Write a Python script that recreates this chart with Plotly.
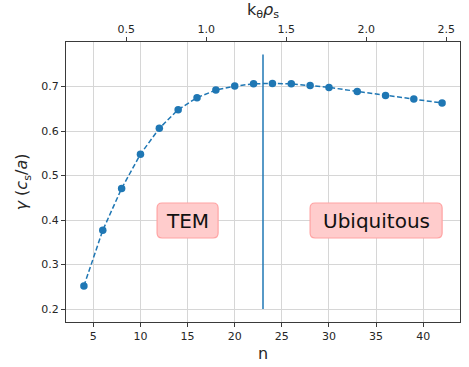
import plotly.graph_objects as go

# data
n_vals = [4, 6, 8, 10, 12, 14, 16, 18, 20, 22, 24, 26, 28, 30, 33, 36, 39, 42]
gamma_vals = [0.252, 0.377, 0.471, 0.548, 0.606, 0.648, 0.675, 0.692, 0.701, 0.706,
              0.707, 0.706, 0.702, 0.698, 0.689, 0.680, 0.672, 0.663]
boundary_n = [23, 23]
boundary_gamma = [0.2, 0.772]
k_per_n = 0.0589  # k_theta rho_s per unit n
top_ticks = [0.5, 1.0, 1.5, 2.0, 2.5]
bottom_ticks = [5, 10, 15, 20, 25, 30, 35, 40]
y_ticks = [0.2, 0.3, 0.4, 0.5, 0.6, 0.7]
labels = ["TEM", "Ubiquitous"]
label_n = [15, 35]
label_gamma = [0.399, 0.399]
label_box_px = [(61, 35), (132, 35)]  # box width/height in pixels

BLUE = "#1f77b4"
FONT = "DejaVu Sans"
TXT = "#262626"

x_range = [2.1, 43.9]
y_range = [0.171, 0.8]


def rounded_rect(w, h, r):
    x0, x1, y0, y1 = -w / 2, w / 2, -h / 2, h / 2
    return (f"M{x0 + r},{y0} L{x1 - r},{y0} Q{x1},{y0} {x1},{y0 + r} "
            f"L{x1},{y1 - r} Q{x1},{y1} {x1 - r},{y1} L{x0 + r},{y1} "
            f"Q{x0},{y1} {x0},{y1 - r} L{x0},{y0 + r} Q{x0},{y0} {x0 + r},{y0} Z")


fig = go.Figure()
fig.add_trace(go.Scatter(x=n_vals, y=gamma_vals, mode="lines+markers",
                         line=dict(color=BLUE, width=1.5, dash="5px,2.5px"),
                         marker=dict(color=BLUE, size=7.5), showlegend=False))
fig.add_trace(go.Scatter(x=boundary_n, y=boundary_gamma, mode="lines",
                         line=dict(color=BLUE, width=1.5), showlegend=False))
# invisible trace on the top axis
fig.add_trace(go.Scatter(x=[v * k_per_n for v in n_vals], y=gamma_vals, xaxis="x2",
                         mode="markers", marker=dict(opacity=0), hoverinfo="skip",
                         showlegend=False))

for text, x, y, (w, h) in zip(labels, label_n, label_gamma, label_box_px):
    fig.add_shape(type="path", xref="x", yref="y", xsizemode="pixel", ysizemode="pixel",
                  xanchor=x, yanchor=y, path=rounded_rect(w, h, 5),
                  fillcolor="#ffcccc", line=dict(color="#ffa3a3", width=1.2),
                  layer="above")
    fig.add_annotation(x=x, y=y, text=text, showarrow=False,
                       font=dict(family=FONT, size=20, color="#111"))

axis_common = dict(showline=True, linecolor="#3a3a3a", linewidth=1,
                   ticks="outside", ticklen=4, tickcolor="#3a3a3a",
                   tickfont=dict(family=FONT, size=11, color=TXT), zeroline=False)

fig.update_layout(
    width=469, height=367,
    margin=dict(l=66, r=8, t=38, b=40),
    paper_bgcolor="white", plot_bgcolor="white",
    font=dict(family=FONT, color=TXT),
    xaxis=dict(range=x_range, tickvals=bottom_ticks, showgrid=True, gridcolor="#d6d6d6",
               gridwidth=1.1, mirror=True,
               title=dict(text="n", font=dict(family=FONT, size=16, color=TXT), standoff=5),
               **axis_common),
    xaxis2=dict(range=[x_range[0] * k_per_n, x_range[1] * k_per_n], tickvals=top_ticks,
                ticktext=[f"{t:.1f}" for t in top_ticks],
                overlaying="x", side="top", showgrid=False, anchor="y",
                title=dict(text="k<sub>θ</sub><i>ρ</i><sub>s</sub>",
                           font=dict(family=FONT, size=16, color=TXT), standoff=3),
                **axis_common),
    yaxis=dict(range=y_range, tickvals=y_ticks, ticktext=[f"{t:.1f}" for t in y_ticks],
               showgrid=True, gridcolor="#d6d6d6", gridwidth=1.1, mirror=True,
               title=dict(text="<i>γ</i> (<i>c</i><sub>s</sub>/<i>a</i>)",
                          font=dict(family=FONT, size=16, color=TXT), standoff=9),
               **axis_common),
)

fig.write_html("out.html")
